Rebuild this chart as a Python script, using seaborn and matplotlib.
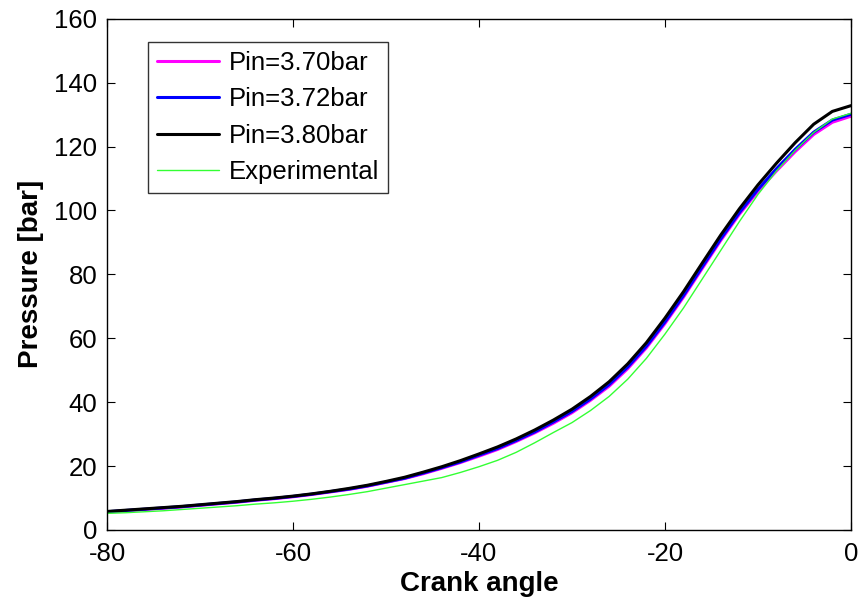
import numpy as np
import pandas as pd
import matplotlib
matplotlib.use("Agg")
import matplotlib.pyplot as plt
import seaborn as sns

crank_angle = list(range(-80, 1, 2))

p_370 = [5.6, 6.0, 6.4, 6.8, 7.2, 7.7, 8.2, 8.7, 9.3, 9.8, 10.4, 11.1, 11.9, 12.7, 13.7,
         14.9, 16.1, 17.6, 19.3, 21.1, 23.1, 25.2, 27.7, 30.4, 33.4, 36.7, 40.6, 45.0,
         50.5, 57.0, 64.6, 72.9, 81.8, 90.6, 98.8, 106.0, 112.4, 118.4, 123.8, 127.6, 129.5]
p_372 = [5.7, 6.1, 6.5, 6.9, 7.3, 7.8, 8.3, 8.8, 9.4, 9.9, 10.5, 11.2, 12.0, 12.8, 13.8,
         15.0, 16.2, 17.8, 19.5, 21.3, 23.4, 25.5, 28.0, 30.7, 33.8, 37.1, 41.0, 45.5,
         51.0, 57.5, 65.1, 73.4, 82.3, 91.1, 99.3, 106.6, 113.1, 119.1, 124.5, 128.3, 130.1]
p_380 = [5.8, 6.2, 6.6, 7.0, 7.4, 7.9, 8.4, 8.9, 9.5, 10.0, 10.6, 11.3, 12.1, 13.0, 14.0,
         15.2, 16.5, 18.1, 19.8, 21.7, 23.8, 26.0, 28.5, 31.3, 34.4, 37.8, 41.8, 46.4,
         52.0, 58.6, 66.3, 74.6, 83.5, 92.3, 100.5, 108.0, 114.8, 121.2, 127.0, 131.0, 132.8]
p_exp = [5.2, 5.4, 5.7, 6.0, 6.4, 6.8, 7.2, 7.6, 8.1, 8.5, 9.0, 9.6, 10.3, 11.1, 12.0,
         13.1, 14.2, 15.3, 16.4, 18.0, 19.8, 21.8, 24.3, 27.3, 30.5, 33.6, 37.4, 41.8,
         47.2, 53.7, 61.3, 69.5, 78.5, 87.5, 96.5, 105.0, 112.4, 118.8, 124.4, 128.6, 130.4]

labels = ["Pin=3.70bar", "Pin=3.72bar", "Pin=3.80bar", "Experimental"]
colors = ["#ff00ff", "#0000ff", "#000000", "#33ff33"]
widths = [2.2, 2.2, 2.2, 1.0]
xticks = [-80, -60, -40, -20, 0]
yticks = [0, 20, 40, 60, 80, 100, 120, 140, 160]

sns.set_style("white")
plt.rcParams["font.family"] = ["Liberation Sans", "DejaVu Sans"]
plt.rcParams["axes.unicode_minus"] = False
plt.rcParams["text.color"] = "black"
plt.rcParams["axes.labelcolor"] = "black"
plt.rcParams["xtick.color"] = "black"
plt.rcParams["ytick.color"] = "black"

fig = plt.figure(figsize=(8.63, 6.05), dpi=100)
ax = fig.add_axes([0.124, 0.124, 0.862, 0.845])

series = [p_370, p_372, p_380, p_exp]
for vals, lab, col, lw in zip(series, labels, colors, widths):
    df = pd.DataFrame({"angle": crank_angle, "pressure": vals})
    sns.lineplot(data=df, x="angle", y="pressure", ax=ax, color=col,
                 linewidth=lw, label=lab)

ax.set_xlim(-80, 0)
ax.set_ylim(0, 160)
ax.set_xticks(xticks)
ax.set_yticks(yticks)
ax.tick_params(direction="in", length=6, width=0.8, labelsize=18.5,
               top=True, right=True, bottom=True, left=True,
               colors="black", labelcolor="black")
ax.tick_params(axis="x", pad=9)
ax.tick_params(axis="y", pad=7)
for s in ax.spines.values():
    s.set_color("black")
    s.set_linewidth(1.0)
ax.set_xlabel("Crank angle", fontsize=20, fontweight="bold", labelpad=3, color="black")
ax.set_ylabel("Pressure [bar]", fontsize=20, fontweight="bold", labelpad=7, color="black")

leg = ax.legend(loc="upper left", bbox_to_anchor=(148 / 863, 1 - 42 / 605),
                bbox_transform=fig.transFigure, borderaxespad=0, fontsize=18.5,
                frameon=True, fancybox=False, handlelength=2.4, labelspacing=0.48,
                handletextpad=0.4, borderpad=0.35)
leg.get_frame().set_edgecolor("black")
leg.get_frame().set_linewidth(1.0)
for t in leg.get_texts():
    t.set_color("black")

fig.savefig("out.png", dpi=100, facecolor="white")
